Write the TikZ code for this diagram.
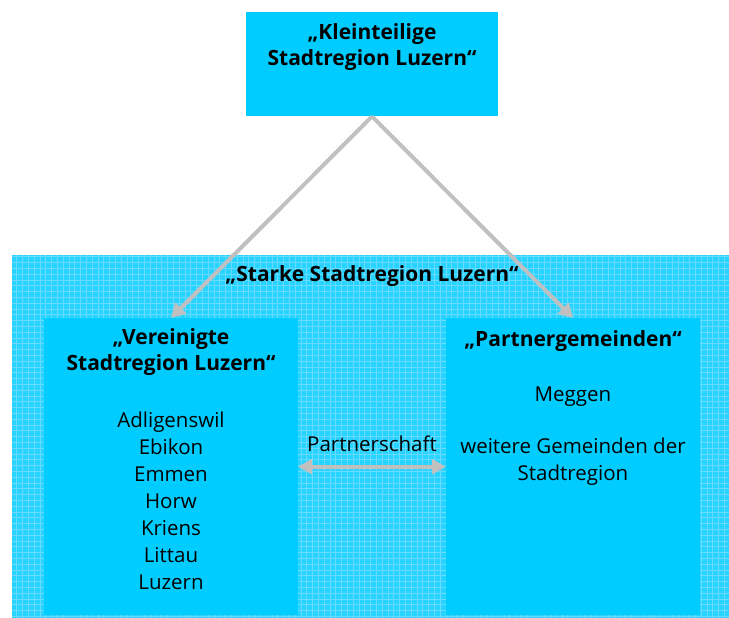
\documentclass[tikz,border=0pt]{standalone}
\usepackage{fontspec}
\setmainfont{Open Sans}
\usepackage{tikz}
\usetikzlibrary{arrows.meta,positioning}

\definecolor{boxcyan}{RGB}{0,204,255}
\definecolor{gridcyan}{RGB}{105,218,255}
\definecolor{linkgray}{RGB}{192,192,192}

\begin{document}
\begin{tikzpicture}[
    x=1pt, y=-1pt,
    font=\fontsize{20.5}{27}\selectfont,
    box/.style={
        rectangle,
        fill=boxcyan,
        inner sep=0pt,
        minimum width=#1,
    },
    region/.style={
        rectangle,
        fill=boxcyan!85!white,
        inner sep=0pt,
        path picture={
            \draw[gridcyan, line width=1pt, step=5.8pt]
                (path picture bounding box.south west) grid
                (path picture bounding box.north east);
        },
    },
    title/.style={
        font=\bfseries\fontsize{21}{26.5}\selectfont,
        align=center,
        inner sep=0pt,
    },
    entry/.style={
        align=center,
        inner sep=0pt,
    },
    link/.style={
        draw=linkgray,
        line width=4pt,
        -{Triangle[width=15pt,length=14pt]},
    },
]
\useasboundingbox (0,0) rectangle (729,618);

% =========================================================
% patterned region "Starke Stadtregion"
% =========================================================
\node[region, minimum width=717, minimum height=363, anchor=north west] (starke) at (12,255) {};
\node[title] (starketxt) at (372,276) {„Starke Stadtregion Luzern“};

% top box
\node[box=252, minimum height=104, anchor=north] (klein) at (372,12) {};
\node[title, below=11pt of klein.north] (kleintxt) {„Kleinteilige\\Stadtregion Luzern“};

% left box
\node[box=254, minimum height=297, anchor=north] (vereinigt) at (171,318) {};
\node[title, below=10pt of vereinigt.north] (vereinigttxt) {„Vereinigte\\Stadtregion Luzern“};
\node[entry, below=36pt of vereinigttxt] (gemeinden) {Adligenswil\\Ebikon\\Emmen\\Horw\\Kriens\\Littau\\Luzern};

% right box
\node[box=254, minimum height=297, anchor=north] (partner) at (573,318) {};
\node[title, below=12pt of partner.north] (partnertxt) {„Partnergemeinden“};
\node[entry, below=35pt of partnertxt] (meggen) {Meggen};
\node[entry, below=31pt of meggen] (weitere) {weitere Gemeinden der\\Stadtregion};

% arrows
\draw[link] (klein.south) -- (vereinigt.north);
\draw[link] (klein.south) -- (partner.north);
\draw[link, {Triangle[width=15pt,length=14pt]}-{Triangle[width=15pt,length=14pt]}] (vereinigt.east) -- (partner.west)
    node[midway, above=13pt, inner sep=0pt] (partnerschaft) {Partnerschaft};

\end{tikzpicture}
\end{document}
